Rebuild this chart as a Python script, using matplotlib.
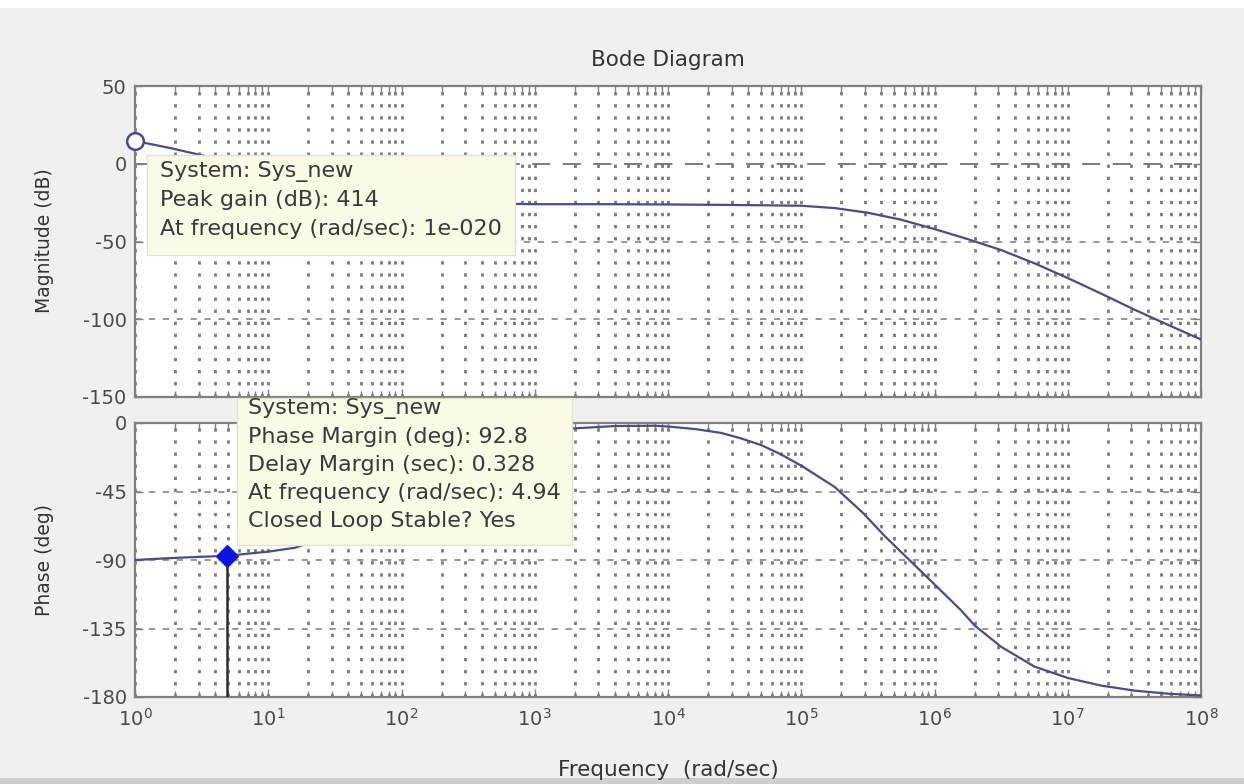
import matplotlib
matplotlib.use("Agg")
import math
import matplotlib.pyplot as plt
from matplotlib.patches import Rectangle
from matplotlib.ticker import LogLocator, FixedLocator, FuncFormatter, NullFormatter

# ---------------- data ----------------
mag_freq = [1, 1.86, 3.16, 10, 31.6, 100, 316, 708, 1e3, 3.16e3, 1e4, 3.16e4,
            1e5, 1.78e5, 3.16e5, 5.62e5, 1e6, 1.78e6, 3.16e6, 5.62e6, 1e7,
            1.78e7, 3.16e7, 5.62e7, 1e8]
mag_db = [14.7, 10.0, 5.5, -5.0, -14.0, -21.5, -25.0, -25.8, -26.0, -26.0, -26.2,
          -26.5, -27.0, -28.5, -31.5, -36.0, -42.0, -48.5, -55.5, -64.0, -73.5,
          -83.5, -93.8, -103.5, -113.0]

phase_freq = [1, 2, 4.94, 10, 15.8, 31.6, 100, 316, 1e3, 2e3, 4e3, 8e3, 1e4,
              1.6e4, 2.5e4, 3.5e4, 5e4, 7e4, 1e5, 1.78e5, 2.9e5, 4.2e5, 6.3e5,
              1e6, 1.58e6, 2e6, 3.16e6, 5.62e6, 1e7, 1.78e7, 3.16e7, 5.62e7, 1e8]
phase_deg = [-90, -88.6, -87.2, -84.5, -82, -73, -45, -17.5, -6, -3.5, -2, -1.8,
             -2.3, -4.0, -6.5, -10, -14.5, -20.5, -28, -42, -59, -74, -89,
             -106, -123, -133, -147, -160, -167.5, -172.5, -175.8, -177.8, -179]

pm_freq = 4.94          # phase-margin frequency (rad/sec)
pm_phase = -87.2        # phase at that frequency (deg)
peak_marker_freq = 1    # magnitude datatip marker (clipped at axis edge)
peak_marker_db = 14.7

freq_ticks = [1, 1e1, 1e2, 1e3, 1e4, 1e5, 1e6, 1e7, 1e8]
mag_ticks = [50, 0, -50, -100, -150]
phase_ticks = [0, -45, -90, -135, -180]

title_text = "Bode Diagram"
xlabel_text = "Frequency  (rad/sec)"
mag_label = "Magnitude (dB)"
phase_label = "Phase (deg)"
tip1_lines = ["System: Sys_new", "Peak gain (dB): 414",
              "At frequency (rad/sec): 1e-020"]
tip2_lines = ["System: Sys_new", "Phase Margin (deg): 92.8",
              "Delay Margin (sec): 0.328", "At frequency (rad/sec): 4.94",
              "Closed Loop Stable? Yes"]

# ---------------- styling ----------------
plt.rcParams["font.family"] = ["DejaVu Sans"]
plt.rcParams["mathtext.default"] = "regular"
plt.rcParams["lines.scale_dashes"] = False
plt.rcParams["axes.unicode_minus"] = False

W, H = 1244, 784
fig = plt.figure(figsize=(W / 100, H / 100), dpi=100, facecolor="#f0f0f0")


def fx(px):
    return px / W


def fy(py):
    return 1 - py / H


CURVE = "#4b4b8c"
GRID = "#7a7a7a"
FRAME = "#808080"
TXT = "#4a4a4a"

# top white strip and bottom darker strip of the window
fig.add_artist(Rectangle((0, fy(8)), 1, 8 / H, transform=fig.transFigure,
                         facecolor="white", edgecolor="none", zorder=-5))
fig.add_artist(Rectangle((0, 0), 1, 6 / H, transform=fig.transFigure,
                         facecolor="#cfcfcf", edgecolor="none", zorder=-5))

L, R = 135, 1201
ax1 = fig.add_axes([fx(L), fy(397), (R - L) / W, (397 - 86) / H])
ax2 = fig.add_axes([fx(L), fy(697), (R - L) / W, (697 - 423) / H])

for ax in (ax1, ax2):
    ax.set_facecolor("white")
    ax.set_xscale("log")
    ax.set_xlim(freq_ticks[0], freq_ticks[-1])
    ax.xaxis.set_major_locator(FixedLocator(freq_ticks))
    ax.xaxis.set_minor_locator(LogLocator(base=10, subs=range(2, 10), numticks=200))
    ax.xaxis.set_minor_formatter(NullFormatter())
    for s in ax.spines.values():
        s.set_color(FRAME)
        s.set_linewidth(1.6)
    ax.tick_params(which="both", direction="in", top=True, right=True,
                   color=FRAME, labelcolor=TXT, labelsize=14)
    ax.tick_params(which="major", length=6, width=1.0, pad=6)
    ax.tick_params(which="minor", length=4, width=1.0)
    ax.grid(True, which="both", axis="x", color=GRID, linewidth=2.0,
            linestyle=(0, (2.4, 6.3)))
    ax.grid(True, which="major", axis="y", color=GRID, linewidth=1.1,
            linestyle=(0, (4.5, 5.5)))
    ax.set_axisbelow(True)

ax1.set_ylim(mag_ticks[-1], mag_ticks[0])
ax1.yaxis.set_major_locator(FixedLocator(mag_ticks))
ax1.tick_params(axis="x", which="both", labelbottom=False)

ax2.set_ylim(phase_ticks[-1], phase_ticks[0])
ax2.yaxis.set_major_locator(FixedLocator(phase_ticks))
ax2.xaxis.set_major_formatter(
    FuncFormatter(lambda v, p: r"$10^{%d}$" % round(math.log10(v))))
ax2.tick_params(axis="x", which="major", pad=8)

# longer dashes on the 0 dB line
fig.canvas.draw()
for t in ax1.yaxis.get_major_ticks():
    if abs(t.get_loc()) < 1e-9:
        t.gridline.set_linestyle((0, (13, 9)))
        t.gridline.set_linewidth(1.4)

# curves
ax1.plot(mag_freq, mag_db, color=CURVE, lw=1.6, zorder=3)
ax1.plot([peak_marker_freq], [peak_marker_db], marker="o", ms=12,
         mfc="white", mec=CURVE, mew=1.8, clip_on=False, zorder=4)

ax2.plot(phase_freq, phase_deg, color=CURVE, lw=1.6, zorder=3)
ax2.plot([pm_freq, pm_freq], [pm_phase, phase_ticks[-1]], color="#2a2a3a",
         lw=1.8, zorder=3)
ax2.plot([pm_freq], [pm_phase], marker="D", ms=11, mfc="#0a14e6",
         mec="#1a1ad0", zorder=5)

# titles / labels
fig.text(fx(668), fy(60), title_text, ha="center", va="center",
         fontsize=15.5, color="#333333")
fig.text(fx(668), fy(770), xlabel_text, ha="center", va="center",
         fontsize=15.5, color="#333333")
fig.text(fx(45), fy(241), mag_label, ha="center", va="center", rotation=90,
         fontsize=13.5, color="#333333")
fig.text(fx(45), fy(560), phase_label, ha="center", va="center", rotation=90,
         fontsize=13.5, color="#333333")

# datatips
BOX = "#fafae6"
BOXEDGE = "#e2e2d0"
fig.add_artist(Rectangle((fx(147), fy(255)), (515 - 147) / W, (255 - 155) / H,
                         transform=fig.transFigure, facecolor=BOX,
                         edgecolor=BOXEDGE, lw=1, zorder=10))
for i, line in enumerate(tip1_lines):
    fig.text(fx(160), fy(172 + 28.5 * i), line, ha="left", va="center",
             fontsize=16, color="#3a3a3a", zorder=11)

fig.add_artist(Rectangle((fx(237), fy(545)), (572 - 237) / W, (545 - 398) / H,
                         transform=fig.transFigure, facecolor=BOX,
                         edgecolor=BOXEDGE, lw=1, zorder=10))
for i, line in enumerate(tip2_lines):
    fig.text(fx(248), fy(409 + 28 * i), line, ha="left", va="center",
             fontsize=16, color="#3a3a3a", zorder=11)

fig.savefig("out.png", dpi=100, facecolor=fig.get_facecolor())
